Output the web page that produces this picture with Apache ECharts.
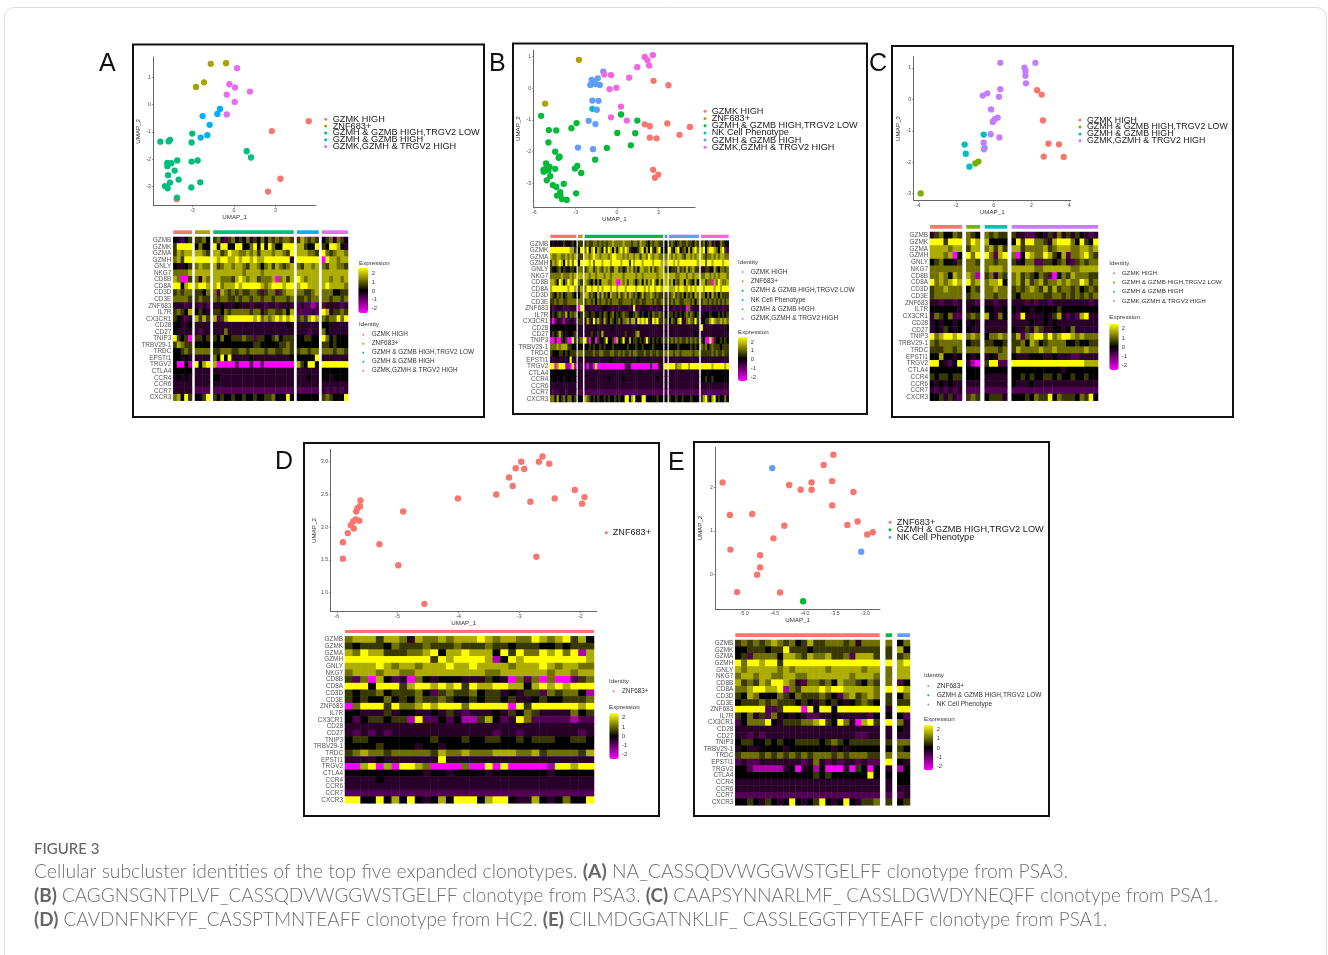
<!DOCTYPE html>
<html>
<head>
<meta charset="utf-8">
<style>html,body{margin:0;padding:0;background:#fff}#c{width:1328px;height:955px;filter:blur(0.4px)}</style>
<script src="https://cdn.jsdelivr.net/npm/echarts@6/dist/echarts.min.js"></script>
</head>
<body>
<div id="c"></div>
<script>
// ---------- shared categories ----------
const genes = ['GZMB','GZMK','GZMA','GZMH','GNLY','NKG7','CD8B','CD8A','CD3D','CD3E','ZNF683','IL7R','CX3CR1','CD28','CD27','TNIP3','TRBV29-1','TRDC','EPSTI1','TRGV2','CTLA4','CCR4','CCR6','CCR7','CXCR3'];
const expressionTicks = [2,1,0,-1,-2];
// each digit of a heat row is one cell, read as an expression level
const levelValues = [-2.5,-1.7,-0.8,-0.4,0,0.55,1.1,1.7,2.5];
const heatColors = ['#FF00FF','#000000','#FFFF00'];

const N_GZMK='GZMK HIGH', N_ZNF='ZNF683+', N_LOW='GZMH & GZMB HIGH,TRGV2 LOW', N_NK='NK Cell Phenotype', N_HIGH='GZMH & GZMB HIGH', N_TRGV='GZMK,GZMH & TRGV2 HIGH';

// ---------- panel A ----------
const A_names=[N_GZMK,N_ZNF,N_LOW,N_HIGH,N_TRGV];
const A_colors=['#F8766D','#A3A500','#00BF7D','#00B0F6','#E76BF3'];
const A_xTicks=[-3,0,3], A_yTicks=[-3,-2,-1,0,1];
const A_p0=[[5.42,-0.61],[2.74,-0.97],[3.37,-2.72],[2.47,-3.19],[-4.16,-3.47]];
const A_p1=[[-1.69,1.50],[-0.58,1.52],[-2.18,0.82],[-2.76,0.65]];
const A_p2=[[-5.35,-1.36],[-4.75,-1.35],[-4.65,-1.29],[-3.03,-1.06],[-3.08,-1.39],[0.92,-1.71],[1.23,-1.94],[-4.12,-2.05],[-4.55,-2.15],[-4.84,-2.14],[-4.84,-2.26],[-3.08,-2.09],[-2.64,-2.05],[-4.31,-2.42],[-4.79,-2.59],[-4.02,-2.75],[-4.65,-2.86],[-5.01,-2.99],[-4.82,-3.07],[-3.10,-3.04],[-2.45,-2.85],[-4.14,-3.41]];
const A_p3=[[-1.02,-0.16],[-1.21,-0.34],[-2.28,-0.42],[-1.77,-0.74],[-1.94,-1.12],[-2.42,-1.21]];
const A_p4=[[0.22,1.34],[-0.34,0.75],[0.07,0.63],[1.16,0.48],[-0.53,0.37],[0.05,0.10],[-0.53,-0.36]];
const A_heat=[
"43245|5564|5632564546354646565665|576565|4563654",
"58888|4644|8488448844684848644888|775448|5488743",
"57677|7765|7756877667675777677658|777665|8656776",
"67588|8888|8788778788787788888883|888888|0877677",
"43345|6766|7567767765776467576567|657767|6577665",
"66667|7777|7777777767777677777777|777777|7777777",
"76005|6376|7766657876775666706757|876777|7767767",
"88478|7887|7867778788888767888788|788777|7877776",
"56566|5546|6276565655665256625677|665567|6664455",
"66665|5655|6566556566566566566656|556566|6656656",
"33323|3232|3343334333233323323333|232212|2333323",
"56547|4543|5546566666566356655647|222232|8735565",
"54323|7575|7257888888878676787878|565787|6566868",
"44334|3333|3333333333333333333343|333333|4433333",
"43333|3233|3336333333333333333333|333233|6433333",
"85450|5545|5464455565525544564555|445544|8645444",
"57655|4444|4444444444455444445565|444444|5545444",
"44565|6666|5566655665666656655665|566566|6665665",
"44343|3333|6484833333433333333334|444448|3333333",
"40041|8478|7000002000200200000000|754884|8888888",
"44444|3333|3333333333333333333333|333333|4444444",
"34343|3333|4433333333333333333333|333433|4434444",
"33333|3333|3333333333333333333333|333333|3333333",
"33333|2222|2222222222222222222222|222222|3232323",
"67485|4458|5454454454454455644484|444444|5654448"];

// ---------- panel B ----------
const B_names=[N_GZMK,N_ZNF,N_LOW,N_NK,N_HIGH,N_TRGV];
const B_colors=['#F8766D','#B79F00','#00BA38','#00BFC4','#619CFF','#F564E3'];
const B_xTicks=[-6,-3,0,3], B_yTicks=[-3,-2,-1,0,1];
const B_p0=[[2.65,0.23],[3.73,0.09],[2.01,-1.14],[2.38,-1.20],[3.65,-1.11],[5.29,-1.22],[4.53,-1.47],[2.38,-1.56],[2.87,-1.58],[2.62,-2.57],[2.99,-2.72],[2.75,-2.82]];
const B_p1=[[-2.77,0.89],[-5.22,-0.49]];
const B_p2=[[-5.51,-0.87],[-4.95,-1.32],[-4.41,-1.33],[-3.31,-1.26],[-2.94,-1.10],[-4.98,-1.71],[0.29,-0.83],[1.47,-1.02],[0.02,-1.41],[1.32,-1.42],[-0.74,-1.88],[1.0,-1.80],[-1.59,-2.25],[-4.49,-2.0],[-4.17,-2.16],[-4.24,-2.19],[-5.15,-2.37],[-5.22,-2.55],[-4.90,-2.48],[-5.32,-2.63],[-4.98,-2.59],[-4.49,-2.54],[-4.85,-2.77],[-5.10,-2.90],[-4.66,-3.05],[-4.41,-3.11],[-3.87,-3.01],[-4.12,-3.27],[-4.12,-3.37],[-4.36,-3.38],[-4.0,-3.49],[-3.65,-3.52],[-2.97,-3.31],[-3.06,-2.53],[-2.89,-2.45],[-2.60,-2.67],[-5.34,-2.57]];
const B_p3=[[-1.79,-0.65]];
const B_p4=[[-1.0,0.52],[-1.40,0.31],[-1.84,0.26],[-1.67,0.18],[-1.94,0.10],[-1.57,0.13],[-1.25,0.10],[-1.79,-0.39],[-1.35,-0.40],[-1.47,-0.68],[-2.06,-1.03],[-1.57,-1.13],[-2.84,-1.87],[-1.74,-1.92]];
const B_p5=[[2.60,1.04],[2.01,0.98],[2.21,0.88],[2.33,0.71],[1.47,0.66],[0.88,0.33],[-0.93,0.43],[-0.44,0.41],[-0.54,-0.03],[-0.05,0.01],[0.29,-0.58],[-0.44,-0.92],[0.71,-1.02]];
const B_heat=[
"434343544354|55|5655665656566766667666566576654656655|4|56545655655465|5645635436544",
"888888888775|48|6847847648587474786875344578474854784|4|85478456474786|7847887647852",
"766776676767|55|7767877677767887776767767757768767766|6|76767765776767|7656676767766",
"576787486868|48|8878688878887888878885878887888878887|7|88787888888887|8868878888788",
"544564534554|66|5677567657675577564576756477667575677|5|45557565756755|3355447546656",
"666667666767|77|7767767776776777776777776776777777677|7|77766777677677|6677676767776",
"776487468768|65|7654646477766770076757764674757686475|7|67465774765474|7756607687667",
"788888887887|57|6887887878887887888788887888787887887|8|77787887787878|8788887887888",
"654656456654|46|7756547575647665756757656457566765655|5|56756564656476|6646475646555",
"556566556666|66|5665646566565666556666565565566656556|5|56566556665646|5665656565656",
"323333232333|08|3332323334333233233332383233333233233|3|33233233062333|2323233233233",
"454565574656|45|5545544546545645456554456545445465565|4|55454545656545|3344544454545",
"202332132332|55|3753857537546545646675773878785387855|5|46547833676585|3455787667676",
"444444444444|33|3333343333333433333333333433333333333|3|33333333333333|8333333333334",
"354575434435|33|3335335373333333333533336733333333333|3|33333333333343|3333333333333",
"005005350085|56|8504405345844507458447455454585454545|5|56565655656565|5400805445454",
"666767775544|44|4454544545444544444454445445444454444|4|44445444445454|6564565554555",
"544455454555|66|5555655665556655656556566555655655655|6|66566566666566|5555565655655",
"333333334833|33|3333333333334333333333333433333333333|3|33333333333333|3333333333333",
"880788811081|32|2022080000000000000222000000000300043|8|88867788878888|8888878888878",
"444444444444|33|3333333333333333333333333333333333333|3|33333333333333|4444444444444",
"444344344434|33|3333333333343333334333333333333333433|3|33333333333333|4454454444444",
"333333333333|33|3333333333333333333333333333333333333|3|33333333333333|3333333333333",
"323233323333|22|2222222222222222222222222222222222222|2|22222222222222|2222222222222",
"664745646645|44|7654545445454454544884784448844444544|4|54454454445444|5785478454464"];

// ---------- panel C ----------
const C_names=[N_GZMK,N_LOW,N_HIGH,N_TRGV];
const C_colors=['#F8766D','#7CAE00','#00BFC4','#C77CFF'];
const C_xTicks=[-4,-2,0,2,4], C_yTicks=[-3,-2,-1,0,1];
const C_p0=[[2.30,0.29],[2.54,0.15],[2.61,-0.67],[2.90,-1.41],[3.46,-1.43],[2.65,-1.82],[3.71,-1.83]];
const C_p1=[[-3.87,-2.99],[-0.97,-2.04],[-0.81,-1.98]];
const C_p2=[[-0.53,-1.12],[-1.54,-1.44],[-0.49,-1.55],[-1.48,-1.73],[-1.29,-2.14]];
const C_p3=[[0.35,1.16],[2.21,1.16],[1.63,1.01],[1.68,0.90],[1.68,0.75],[1.71,0.51],[0.35,0.32],[-0.34,0.19],[-0.58,0.12],[0.28,0.08],[-0.14,-0.32],[0.21,-0.58],[0.07,-0.62],[-0.02,-0.69],[-0.05,-0.72],[-0.16,-1.11],[0.30,-1.21],[-0.53,-1.38],[-0.51,-1.59]];
const C_heat=[
"3564465|654|65655|5332234353635354323",
"8885888|687|74444|4858866537888648548",
"7777677|577|67575|7756666756777667767",
"7776704|868|86278|6048766875472667865",
"4564435|665|66566|5346622554563256566",
"6666666|666|67776|7777766777777667777",
"6676476|761|56365|6756546520465766655",
"8676787|867|67784|6757567566767668756",
"5667666|465|66766|5656765757566564565",
"5666666|566|66566|5466666556656565656",
"3323323|332|33233|3332323323333333323",
"4444443|344|44334|4344344444544444444",
"3654622|565|74364|3283333435732327833",
"3434434|343|33333|3333433434333333333",
"3435434|433|33333|4335365334434633333",
"8678878|676|46676|5726788686788767666",
"6566666|455|55445|5564764566664454455",
"5556656|666|66656|5766667667666666766",
"4474434|434|34366|4333444334333223333",
"8843248|310|58822|8888888888888888777",
"4444444|444|44444|4444444444434444444",
"5455455|444|33333|4454544554544544544",
"4343433|333|33333|4333433333333333333",
"3232323|222|22222|2222222222222222222",
"4453532|565|45553|4445465584655546584"];

// ---------- panel D ----------
const D_names=[N_ZNF];
const D_colors=['#F8766D'];
const D_xTicks=[-6,-5,-4,-3,-2], D_yTicks=[1.0,1.5,2.0,2.5,3.0];
const D_p0=[[-5.61,2.41],[-5.62,2.32],[-5.66,2.29],[-5.68,2.24],[-5.63,2.10],[-5.69,2.12],[-5.73,2.09],[-5.77,2.03],[-5.72,1.98],[-5.82,1.91],[-5.90,1.77],[-5.90,1.52],[-5.30,1.74],[-4.91,2.24],[-4.99,1.42],[-4.56,0.83],[-4.01,2.44],[-3.38,2.50],[-3.17,2.76],[-3.11,2.63],[-3.06,2.90],[-2.92,2.89],[-2.97,3.0],[-2.68,3.0],[-2.62,3.08],[-2.51,2.97],[-2.82,2.39],[-2.42,2.44],[-2.72,1.55],[-2.09,2.57],[-1.93,2.46],[-1.97,2.36]];
const D_heat=[
"67775776"+"37667677"+"78767766"+"87678574",
"54555465"+"55655565"+"55655455"+"54454555",
"76877555"+"66784778"+"77748586"+"68786817",
"88888888"+"88858788"+"88714878"+"88888887",
"77778767"+"76777877"+"87777677"+"78767766",
"67776776"+"67777777"+"77667777"+"77677677",
"52607423"+"06434443"+"33543062"+"60600256",
"88848885"+"78878785"+"87788774"+"78787888",
"54556455"+"56425655"+"64553435"+"52656641",
"54544645"+"46556544"+"54554533"+"45445556",
"06888586"+"67878886"+"88888085"+"88888878",
"44333534"+"43343532"+"33343546"+"53333645",
"42455455"+"18224241"+"15742386"+"22222122",
"33333333"+"33333333"+"33333333"+"33333333",
"32323233"+"33333333"+"33323323"+"33333323",
"45544444"+"44454445"+"44554454"+"55544554",
"44445444"+"43443444"+"44444444"+"44444444",
"56766566"+"66657667"+"66677766"+"75666657",
"33334333"+"33338333"+"33333333"+"33333333",
"00780708"+"87600006"+"00808000"+"00188788",
"44444444"+"44344344"+"44344444"+"44344444",
"33334333"+"33333333"+"33333333"+"33333333",
"33333333"+"33333333"+"33333333"+"33333333",
"22222222"+"22222222"+"22222222"+"22222222",
"88448474"+"84347488"+"84788433"+"74346448"];

// ---------- panel E ----------
const E_names=[N_ZNF,N_LOW,N_NK];
const E_colors=['#F8766D','#00BA38','#619CFF'];
const E_xTicks=[-5.0,-4.5,-4.0,-3.5,-3.0], E_yTicks=[0,1,2];
const E_p0=[[-3.53,2.76],[-3.69,2.52],[-5.36,2.12],[-4.26,2.06],[-4.07,1.95],[-3.89,2.12],[-3.89,1.95],[-3.55,2.15],[-3.20,1.90],[-3.55,1.59],[-5.24,1.37],[-4.87,1.39],[-4.34,1.12],[-3.30,1.14],[-3.13,1.22],[-2.97,0.92],[-2.88,0.97],[-4.52,0.83],[-5.23,0.57],[-4.74,0.44],[-4.74,0.16],[-4.79,-0.01],[-5.12,-0.41],[-4.41,-0.42]];
const E_p1=[[-4.03,-0.62]];
const E_p2=[[-4.54,2.45],[-3.07,0.52]];
const E_heat=[
"565656765645755666563666|6|46",
"445554558555455555555555|5|74",
"452666647765766755627775|5|56",
"868878858888888888888888|8|78",
"767777767677777677777677|6|77",
"677677667766777777767776|6|77",
"756576887632665647665465|6|24",
"667887781657778788777776|8|87",
"547644465465556542675676|5|46",
"455565655545435454345654|5|55",
"888882258880848848888888|3|88",
"546352634343223343333324|4|42",
"246668435556678548630785|8|63",
"333333333333333333333333|3|43",
"332323333333333333332233|3|33",
"455445454455554565455555|5|66",
"343344443444444434344444|4|54",
"566656565656566656566655|6|66",
"232233333332363232332322|8|43",
"442111113403414000305404|3|14",
"444444444444454544444484|4|44",
"333333333333333333333333|3|44",
"333333333333333333333333|3|33",
"222222222222222222222222|2|23",
"445435434843458434843556|5|45"];

// ---------- layout (pixels on the page) ----------
const layout=[
 {id:'A',box:[133,44.5,351,372.5],letter:[99,77],names:A_names,colors:A_colors,pts:[A_p0,A_p1,A_p2,A_p3,A_p4],heat:A_heat,xTicks:A_xTicks,yTicks:A_yTicks,
  plot:[153.3,57,316,205.7],xr:[-5.86,5.95],yr:[-3.71,1.75],ptSize:6.3,
  leg:{dotX:325.7,textX:332.7,y0:119.3,pitch:6.8,fs:9.2},
  rows:[237,400.7],bar:[230.3,234],groups:[[173.3,192],[195,210],[213.3,293.7],[297,318.7],[322,348]],
  idn:{x:359,y:324.7,dotX:363.3,textX:371.7,y0:334.7,pitch:9,fs:6.4},
  exp:{x:359,y:263,bar:[358.3,267.7,9.7,45.3],labX:371.7,lab0:273.3,labPitch:8.85}},
 {id:'B',box:[513,43.5,354,370.5],letter:[489,77],names:B_names,colors:B_colors,pts:[B_p0,B_p1,B_p2,B_p3,B_p4,B_p5],heat:B_heat,xTicks:B_xTicks,yTicks:B_yTicks,
  plot:[533.7,50,695,207.3],xr:[-6.05,5.66],yr:[-3.75,1.2],ptSize:6.3,
  leg:{dotX:705,textX:711.7,y0:111.3,pitch:7.2,fs:9.15},
  rows:[240.7,402],bar:[234.7,238],groups:[[550.3,576.3],[578,582.7],[584.7,663],[664.7,667.3],[669,699],[701,728.7]],
  idn:{x:738,y:262,dotX:742.7,textX:750.7,y0:271.7,pitch:8.85,fs:6.5},
  exp:{x:738,y:332,bar:[738,337,9.3,44],labX:750.7,lab0:342,labPitch:8.75}},
 {id:'C',box:[892,46,341,371],letter:[869,77],names:C_names,colors:C_colors,pts:[C_p0,C_p1,C_p2,C_p3],heat:C_heat,xTicks:C_xTicks,yTicks:C_yTicks,
  plot:[913.7,56.7,1070.7,200.3],xr:[-4.24,4.08],yr:[-3.21,1.355],ptSize:6.3,
  leg:{dotX:1080,textX:1087,y0:120,pitch:6.7,fs:8.8},
  rows:[232,400.7],bar:[225,228.7],groups:[[930,962],[966.3,980],[984.7,1007.3],[1011.7,1098]],
  idn:{x:1109.3,y:263,dotX:1114,textX:1121.7,y0:273.3,pitch:9.2,fs:6.25},
  exp:{x:1109.3,y:317.7,bar:[1109.3,323.7,9.4,46.3],labX:1121.7,lab0:328.7,labPitch:9.25}},
 {id:'D',box:[304,443,355,373],letter:[275,475],names:D_names,colors:D_colors,pts:[D_p0],heat:D_heat,xTicks:D_xTicks,yTicks:D_yTicks,
  plot:[330.7,449.3,596.7,611.7],xr:[-6.1,-1.73],yr:[0.71,3.19],ptSize:6.4,yFix:1,
  leg:{dotX:606.3,textX:612.7,y0:532.7,pitch:8,fs:9.1},
  rows:[636.3,803.3],bar:[630,633],groups:[[345,594]],
  idn:{x:609,y:681,dotX:613.7,textX:622,y0:691.3,pitch:9,fs:6.3},
  exp:{x:609,y:707.7,bar:[609.3,713.3,9.4,45.7],labX:622,lab0:717.7,labPitch:9.25}},
 {id:'E',box:[694,442,355,374],letter:[668,476],names:E_names,colors:E_colors,pts:[E_p0,E_p1,E_p2],heat:E_heat,xTicks:E_xTicks,yTicks:E_yTicks,
  plot:[715.3,447.3,880,609],xr:[-5.48,-2.76],yr:[-0.80,2.93],ptSize:6.4,xFix:1,
  leg:{dotX:890,textX:896.7,y0:522.3,pitch:7.5,fs:9.2},
  rows:[640,805.3],bar:[633.3,637],groups:[[735.3,879.7],[885.7,892],[897.3,910]],
  idn:{x:924,y:675.3,dotX:928.3,textX:936.7,y0:685.7,pitch:8.8,fs:6.55},
  exp:{x:924,y:719.7,bar:[923.7,725,9.3,45.3],labX:936.7,lab0:729.7,labPitch:9.15}}
];

const FONT='"Liberation Sans",Arial,sans-serif';
const grids=[],xAxes=[],yAxes=[],series=[],legends=[],visualMaps=[],gfx=[];

function addText(x,y,text,fs,color,extra){
  gfx.push(Object.assign({type:'text',silent:true,z:5,style:{x,y,text,fontFamily:FONT,fontSize:fs,fill:color,textVerticalAlign:'middle',verticalAlign:'middle'}},extra||{}));
}
function legendOf(names,colors,o){
  const dot=o.dot;
  // lines sit closer than the font height, so the gap between items goes negative
  return {left:o.dotX-dot/2,top:o.y0-o.fs/2,orient:'vertical',padding:0,itemWidth:dot,itemHeight:dot,itemGap:o.pitch-o.fs,selectedMode:false,
    textStyle:{fontFamily:FONT,fontSize:o.fs,color:o.color,lineHeight:o.fs,padding:[0,0,0,Math.max(0,o.textX-o.dotX-dot/2-5)]},
    data:names.map((n,i)=>({name:n,icon:'circle',itemStyle:{color:colors[i]}}))};
}

// outer page frame
gfx.push({type:'rect',silent:true,z:0,shape:{x:4.5,y:7.5,width:1322,height:1000,r:10},style:{fill:'none',stroke:'#dcdcdc',lineWidth:1}});

layout.forEach(p=>{
  // frame and letter
  gfx.push({type:'rect',silent:true,z:1,shape:{x:p.box[0],y:p.box[1],width:p.box[2],height:p.box[3]},style:{fill:'none',stroke:'#111',lineWidth:2}});
  gfx.push({type:'text',silent:true,z:5,style:{x:p.letter[0],y:p.letter[1],text:p.id,fontFamily:FONT,fontSize:25,fill:'#111',textVerticalAlign:'bottom',verticalAlign:'bottom'}});

  // scatter
  const gi=grids.length;
  const [l,t,r,b]=p.plot;
  grids.push({left:l,top:t,width:r-l,height:b-t});
  const axisCommon={type:'value',axisLine:{show:true,onZero:false,lineStyle:{color:'#666',width:1}},splitLine:{show:false},nameTextStyle:{fontFamily:FONT,fontSize:6.2,color:'#333'},nameLocation:'middle'};
  xAxes.push(Object.assign({},axisCommon,{gridIndex:gi,min:p.xr[0],max:p.xr[1],name:'UMAP_1',nameGap:8.5,
    axisTick:{show:true,length:1.5,lineStyle:{color:'#666',width:.7},customValues:p.xTicks},
    axisLabel:{fontFamily:FONT,fontSize:5.2,color:'#4d4d4d',margin:2.5,customValues:p.xTicks,formatter:v=>p.xFix?Number(v).toFixed(p.xFix):String(v)}}));
  yAxes.push(Object.assign({},axisCommon,{gridIndex:gi,min:p.yr[0],max:p.yr[1],name:'UMAP_2',nameGap:12.5,
    axisTick:{show:true,length:1.5,lineStyle:{color:'#666',width:.7},customValues:p.yTicks},
    axisLabel:{fontFamily:FONT,fontSize:5.2,color:'#4d4d4d',margin:2.5,customValues:p.yTicks,formatter:v=>p.yFix?Number(v).toFixed(p.yFix):String(v)}}));
  const xi=xAxes.length-1, yi=yAxes.length-1;
  p.names.forEach((n,i)=>{
    series.push({type:'scatter',name:n,xAxisIndex:xi,yAxisIndex:yi,data:p.pts[i],symbolSize:p.ptSize,itemStyle:{color:p.colors[i],opacity:1},silent:true,z:3});
  });
  legends.push(legendOf(p.names,p.colors,Object.assign({dot:3,color:'#1a1a1a'},p.leg)));

  // heatmap groups
  const split=p.heat.map(s=>s.split('|'));
  const rowH=p.rows[1]-p.rows[0];
  const heatIdx=[];
  p.groups.forEach((g,k)=>{
    const gidx=grids.length;
    grids.push({left:g[0],top:p.rows[0],width:g[1]-g[0],height:rowH});
    const nCols=split[0][k].length;
    xAxes.push({type:'category',gridIndex:gidx,data:Array.from({length:nCols},(_,i)=>String(i)),show:false});
    yAxes.push({type:'category',gridIndex:gidx,data:genes,inverse:true,show:k===0,axisLine:{show:false},axisTick:{show:false},
      axisLabel:{show:k===0,interval:0,fontFamily:FONT,fontSize:6.4,color:'#555',margin:2}});
    const data=[];
    split.forEach((cols,rowI)=>{
      for(let c=0;c<nCols;c++) data.push([c,rowI,levelValues[+cols[k][c]]]);
    });
    heatIdx.push(series.length);
    series.push({type:'heatmap',xAxisIndex:xAxes.length-1,yAxisIndex:yAxes.length-1,data,silent:true,progressive:0,itemStyle:{borderWidth:0},z:2});
    // identity strip above the group
    gfx.push({type:'rect',silent:true,z:2,shape:{x:g[0],y:p.bar[0],width:g[1]-g[0],height:p.bar[1]-p.bar[0]},style:{fill:p.colors[k]}});
  });

  // identity legend
  addText(p.idn.x,p.idn.y,'Identity',6.2,'#333');
  legends.push(legendOf(p.names,p.colors,Object.assign({dot:2,color:'#333'},p.idn)));

  // expression colour bar
  addText(p.exp.x,p.exp.y,'Expression',6.2,'#333');
  const e=p.exp.bar;
  visualMaps.push({type:'continuous',min:-2.5,max:2.5,seriesIndex:heatIdx,left:e[0],top:e[1],itemWidth:e[2],itemHeight:e[3],padding:0,
    calculable:false,hoverLink:false,inRange:{color:heatColors},textStyle:{fontSize:0},text:null,showLabel:false});
  expressionTicks.forEach((v,i)=>addText(p.exp.labX,p.exp.lab0+i*p.exp.labPitch,String(v),5.8,'#333'));
});

// caption
const capFamily='Lato,"Open Sans",sans-serif';
gfx.push({type:'text',silent:true,z:5,style:{x:34,y:849,text:'FIGURE 3',fontFamily:capFamily,fontSize:15,fontWeight:500,fill:'#666',verticalAlign:'middle'}});
const captionLines=[
 '{n|Cellular subcluster identities of the top five expanded clonotypes. }{b|(A)}{n| NA_CASSQDVWGGWSTGELFF clonotype from PSA3.}',
 '{b|(B)}{n| CAGGNSGNTPLVF_CASSQDVWGGWSTGELFF clonotype from PSA3. }{b|(C)}{n| CAAPSYNNARLMF_ CASSLDGWDYNEQFF clonotype from PSA1.}',
 '{b|(D)}{n| CAVDNFNKFYF_CASSPTMNTEAFF clonotype from HC2. }{b|(E)}{n| CILMDGGATNKLIF_ CASSLEGGTFYTEAFF clonotype from PSA1.}'];
const captionY=[872,896,920];
const captionSize=[19.3,18.92,18.9];
captionLines.forEach((s,i)=>gfx.push({type:'text',silent:true,z:5,style:{x:34,y:captionY[i],text:s,verticalAlign:'middle',
  rich:{n:{fontFamily:capFamily,fontSize:captionSize[i],fontWeight:300,fill:'#6e6e6e',color:'#6e6e6e'},b:{fontFamily:capFamily,fontSize:captionSize[i],fontWeight:700,fill:'#666',color:'#666'}}}}));

const chart=echarts.init(document.getElementById('c'),null,{renderer:'canvas',width:1328,height:955});
chart.setOption({animation:false,backgroundColor:'#fff',grid:grids,xAxis:xAxes,yAxis:yAxes,legend:legends,visualMap:visualMaps,series,graphic:{elements:gfx}});
</script>
</body>
</html>
